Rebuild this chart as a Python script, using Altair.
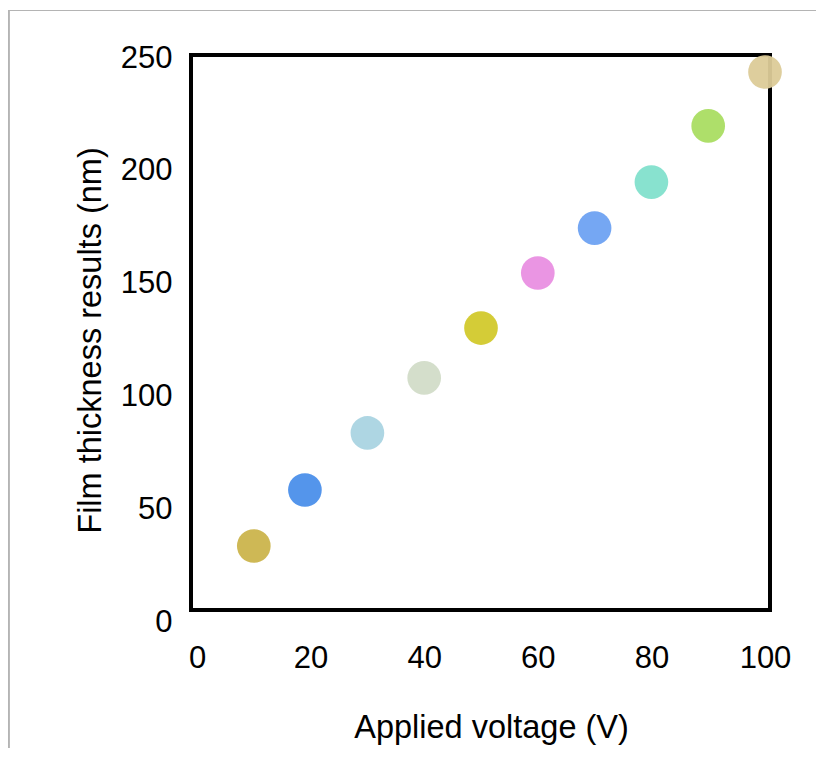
import altair as alt
import pandas as pd

# Data
voltage = [10, 19, 30, 40, 50, 60, 70, 80, 90, 100]
thickness = [33.7, 58.5, 83.8, 108.2, 130.3, 154.7, 174.6, 195.0, 219.9, 243.8]
colors = ["#cbb44c", "#4b8fea", "#aad4e2", "#d2dcc8", "#d2c92c",
          "#e98fe2", "#6ea2f2", "#82e0cc", "#aadd62", "#dccb98"]
x_ticks = [0, 20, 40, 60, 80, 100]
y_ticks = [0, 50, 100, 150, 200, 250]

df = pd.DataFrame({"voltage": voltage, "thickness": thickness, "color": colors})

FONT = "Liberation Sans"

# decorative outer frame of the figure (light gray)
outer_top = alt.Chart(df).mark_rule(color="#b4b4b4", strokeWidth=1.2).encode(
    x=alt.value(-189), x2=alt.value(640), y=alt.value(-47.5)
)
outer_left = alt.Chart(df).mark_rule(color="#b4b4b4", strokeWidth=1.2).encode(
    x=alt.value(-188.4), y=alt.value(-47.5), y2=alt.value(720)
)

# black plot frame
frame = alt.Chart(df).mark_rect(fill=None, stroke="black", strokeWidth=4).encode(
    x=alt.value(-6), x2=alt.value(573), y=alt.value(-3), y2=alt.value(552)
)

points = alt.Chart(df).mark_circle(size=1134, opacity=0.95).encode(
    x=alt.X("voltage:Q",
            scale=alt.Scale(domain=[0, 100], nice=False, zero=False),
            axis=alt.Axis(values=x_ticks, title="Applied voltage (V)",
                          grid=False, ticks=False, domain=False,
                          labelFontSize=31, labelFont=FONT, labelColor="black",
                          labelPadding=21, labelFlush=False,
                          titleFontSize=32.5, titleFont=FONT, titleFontWeight="normal",
                          titleColor="black", titleX=294, titleY=105,
                          titleBaseline="middle", titleAlign="center")),
    y=alt.Y("thickness:Q",
            scale=alt.Scale(domain=[0, 250], nice=False, zero=False),
            axis=alt.Axis(values=y_ticks, title="Film thickness results (nm)",
                          grid=False, ticks=False, domain=False,
                          labelFontSize=31, labelFont=FONT, labelColor="black",
                          labelPadding=25, labelFlush=False,
                          titleFontSize=32.5, titleFont=FONT, titleFontWeight="normal",
                          titleColor="black", titleX=-107, titleY=282,
                          titleAngle=-90, titleBaseline="middle", titleAlign="center")),
    color=alt.Color("color:N", scale=None, legend=None),
)

chart = alt.layer(outer_top, outer_left, frame, points).properties(
    width=568,
    height=564,
    background="white",
    autosize=alt.AutoSizeParams(type="none"),
    padding={"left": 189, "top": 50, "right": 51, "bottom": 126},
).configure_view(stroke="transparent", strokeWidth=0)

chart.save("out.html", embed_options={"renderer": "svg", "actions": False})
